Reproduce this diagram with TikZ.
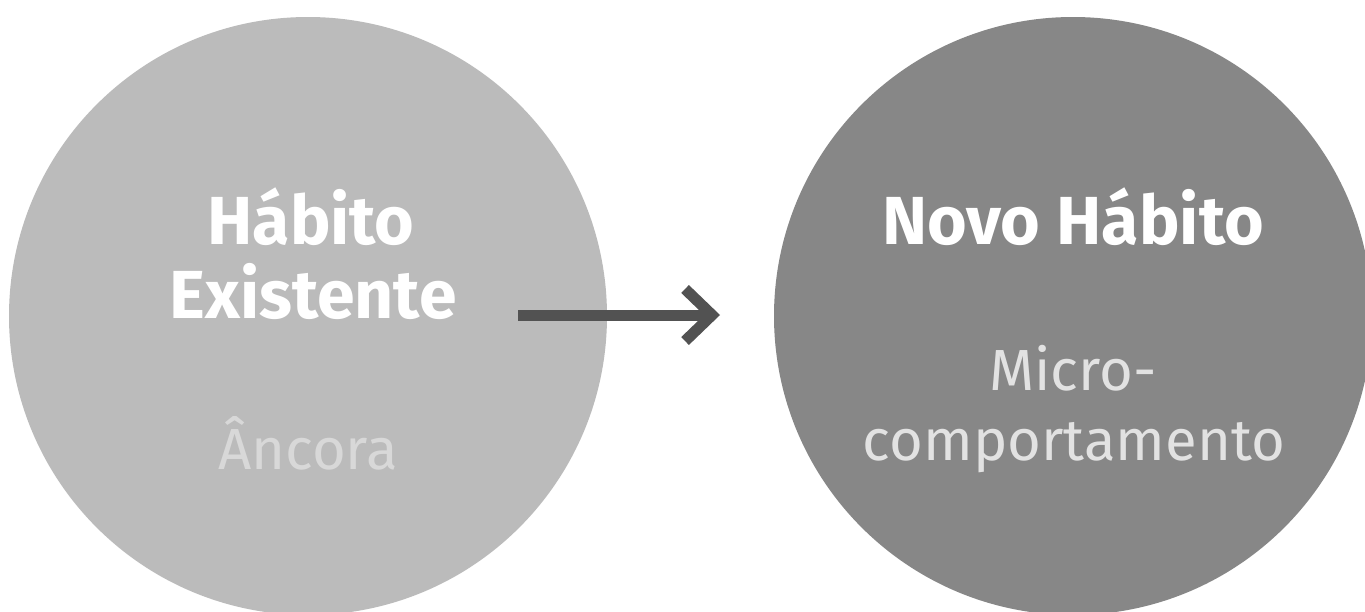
\documentclass[tikz,border=0pt]{standalone}
\usepackage{fontspec}
\setmainfont{Fira Sans}
\usetikzlibrary{arrows.meta}
\definecolor{leftfill}{HTML}{BBBBBB}
\definecolor{rightfill}{HTML}{878787}
\definecolor{arrowgray}{HTML}{525252}
\definecolor{subleft}{HTML}{D8D8D8}
\definecolor{subright}{HTML}{E2E2E2}
\begin{document}
\begin{tikzpicture}[x=1pt,y=-1pt,
  bubble/.style={circle,inner sep=0pt,minimum size=598pt,draw=none},
  titletext/.style={text=white,font=\bfseries\fontsize{68}{68}\selectfont,anchor=base,inner sep=0pt},
  subtext/.style={font=\fontsize{58}{58}\selectfont,anchor=base,inner sep=0pt},
  connector/.style={draw=arrowgray,line width=11pt,-{Straight Barb[length=27pt,width=52pt,line width=11pt]}}
]
\useasboundingbox (0,0) rectangle (1365,611);
\clip (0,0) rectangle (1365,611);
\fill[white] (0,0) rectangle (1365,611);
\node[bubble,fill=leftfill] (left) at (308,316) {};
\node[bubble,fill=rightfill] (right) at (1073,316) {};
\node[titletext] (t1) at (311,244) {Hábito};
\node[titletext] (t2) at (313,318) {Existente};
\node[subtext,text=subleft] (s1) at (308,469) {Âncora};
\node[titletext] (t3) at (1073,244) {Novo Hábito};
\node[subtext,text=subright] (s2) at (1073,390) {Micro-};
\node[subtext,text=subright] (s3) at (1074,460) {comportamento};
\coordinate (a1) at (518,315);
\coordinate (a2) at (720,315);
\draw[connector] (a1) -- (a2);
\end{tikzpicture}
\end{document}
